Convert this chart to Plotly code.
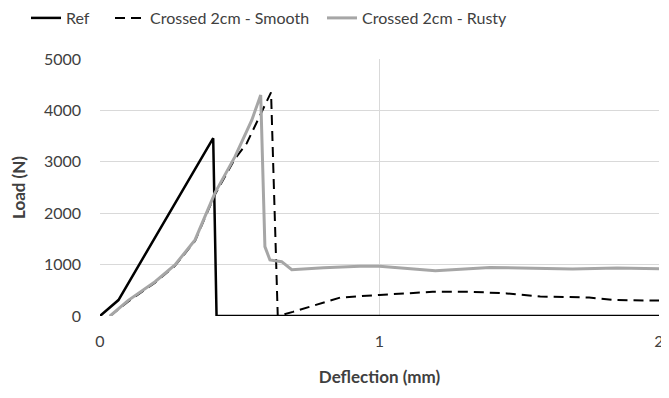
import plotly.graph_objects as go

ref_x = [0.0, 0.066, 0.405, 0.417, 2.0]
ref_y = [0, 310, 3460, 0, 0]

smooth_x = [0.036, 0.10, 0.197, 0.268, 0.34, 0.411, 0.483, 0.525, 0.596, 0.612, 0.636, 0.69, 0.86, 0.93, 1.0, 1.19, 1.33, 1.455, 1.575, 1.75, 1.84, 1.97, 2.0]
smooth_y = [0, 280, 650, 975, 1460, 2360, 3060, 3360, 4170, 4350, 0, 80, 360, 390, 410, 470, 470, 440, 380, 360, 310, 300, 300]

rusty_x = [0.036, 0.10, 0.197, 0.268, 0.34, 0.411, 0.483, 0.543, 0.575, 0.590, 0.608, 0.65, 0.686, 0.80, 0.93, 1.0, 1.2, 1.395, 1.55, 1.69, 1.85, 2.0]
rusty_y = [0, 300, 667, 992, 1480, 2390, 3100, 3810, 4300, 1350, 1090, 1057, 900, 940, 970, 970, 880, 945, 930, 915, 935, 920]

font = "Lato, 'Noto Sans', sans-serif"
txt = "#404040"

fig = go.Figure()
fig.add_trace(go.Scatter(x=ref_x, y=ref_y, mode="lines", name="Ref", legend="legend",
                         line=dict(color="black", width=2.5)))
fig.add_trace(go.Scatter(x=smooth_x, y=smooth_y, mode="lines", name="Crossed 2cm - Smooth", legend="legend2",
                         line=dict(color="black", width=2, dash="10px,6px")))
fig.add_trace(go.Scatter(x=rusty_x, y=rusty_y, mode="lines", name="Crossed 2cm - Rusty", legend="legend3",
                         line=dict(color="#a6a6a6", width=3)))

OFF = 8  # page body margin offset
W = 669 - OFF
H = 398 - OFF
def leg(xpx):
    return dict(orientation="h", xref="container", yref="container", x=xpx / W, y=1 - 10 / H,
                xanchor="left", yanchor="middle", font=dict(size=16, color=txt, family=font),
                bgcolor="rgba(0,0,0,0)")

fig.update_layout(
    width=W, height=H,
    margin=dict(l=100 - OFF, r=10, t=59 - OFF, b=82, autoexpand=False),
    paper_bgcolor="white", plot_bgcolor="white",
    font=dict(family=font, size=16, color=txt),
    showlegend=True,
    legend=leg(18),
    legend2=leg(102),
    legend3=leg(314),
    xaxis=dict(range=[0, 2], tickvals=[0, 1, 2], ticktext=["0", "1", "2"],
               showgrid=True, gridcolor="#d9d9d9", gridwidth=1,
               zeroline=False, showline=False, ticks="", ticklabelstandoff=14,
               title=dict(text="<b>Deflection (mm)</b>", font=dict(size=17, color=txt), standoff=22),
               tickfont=dict(size=16, color=txt)),
    yaxis=dict(range=[0, 5000], tickvals=[0, 1000, 2000, 3000, 4000, 5000],
               showgrid=True, gridcolor="#d9d9d9", gridwidth=1,
               zeroline=False, showline=False, ticks="", ticklabelstandoff=18,
               title=dict(text="<b>Load (N)</b>", font=dict(size=17, color=txt), standoff=20),
               tickfont=dict(size=16, color=txt)),
)

fig.write_html("out.html")
